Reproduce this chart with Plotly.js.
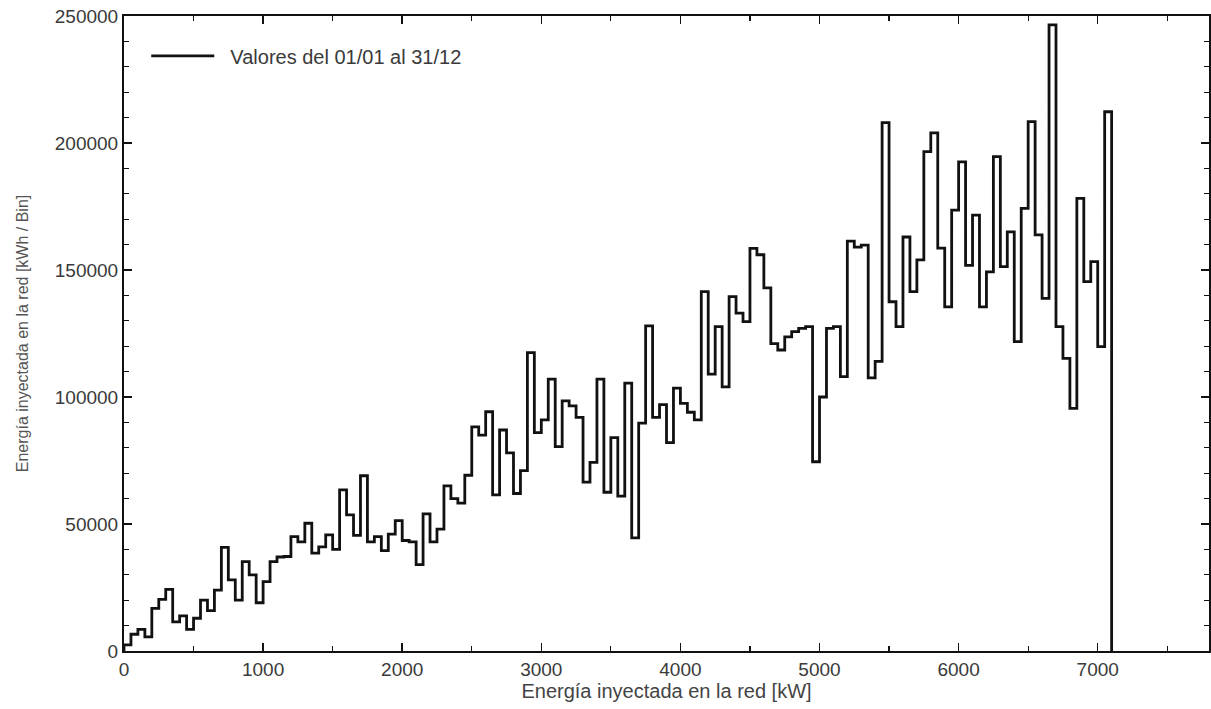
<!DOCTYPE html>
<html>
<head>
<meta charset="utf-8">
<script src="https://cdn.plot.ly/plotly-3.0.1.min.js"></script>
<style>
  html, body { margin: 0; padding: 0; background: #fff; }
  #chart { width: 1211px; height: 709px; }
</style>
</head>
<body>
<div id="chart"></div>
<script>
// Bin width of the histogram (kW)
const binWidth = 50;
// Energy injected per bin (kWh / Bin), bins starting at 0 kW
const binValues = [
  2400, 6600, 8500, 5600, 16800, 20300, 24300, 11500, 13800, 8500,
  12900, 20000, 15900, 24000, 40800, 28000, 20000, 35200, 30000, 19000,
  27300, 35200, 37000, 37200, 45000, 43000, 50300, 38500, 41000, 45700,
  40000, 63400, 53600, 45500, 69000, 43000, 45000, 39500, 46000, 51300,
  43500, 43000, 34000, 54000, 43000, 48000, 65000, 60000, 58200, 69200,
  88200, 85000, 94200, 61500, 87000, 78000, 62000, 71000, 117500, 86000,
  91000, 107000, 80500, 98500, 96500, 92000, 66500, 74300, 107000, 62500,
  84000, 61000, 105500, 44500, 89700, 128000, 92000, 97000, 82000, 103500,
  97500, 94000, 91000, 141500, 109000, 127700, 104000, 139500, 133000, 129700,
  158500, 156000, 143000, 121000, 118500, 123700, 125700, 127000, 127700, 74500,
  100000, 127000, 127700, 108000, 161400, 159000, 159800, 107500, 114000, 208000,
  137500, 127700, 163000, 141500, 154000, 196600, 204000, 158600, 135500, 173600,
  192600, 151800, 171600, 135500, 149300, 194600, 151300, 165000, 121800, 174300,
  208400, 163800, 138800, 246500, 127700, 115200, 95500, 178200, 145400, 153300,
  119800, 212300
];
const seriesName = '\u00a0\u00a0Valores del 01/01 al 31/12';
const xTitle = 'Energía inyectada en la red [kW]';
const yTitle = 'Energía inyectada en la red [kWh / Bin]';

// Build the step outline from the bin edges
const xs = [0];
const ys = [0];
for (let i = 0; i < binValues.length; i++) {
  xs.push(i * binWidth);
  ys.push(binValues[i]);
}
xs.push(binValues.length * binWidth);
ys.push(0);

const trace = {
  type: 'scatter',
  mode: 'lines',
  x: xs,
  y: ys,
  name: seriesName,
  line: { shape: 'hv', color: '#111', width: 2.8 },
  showlegend: true
};

const FAM = 'Liberation Sans, Arial, sans-serif';
const axisFont = { family: FAM, size: 19, color: '#3a3a3a' };

const layout = {
  width: 1211,
  height: 709,
  margin: { l: 124, r: 2, t: 16, b: 58 },
  paper_bgcolor: '#fff',
  plot_bgcolor: '#fff',
  showlegend: true,
  legend: {
    x: 0.0205, y: 0.968, xanchor: 'left', yanchor: 'top',
    bgcolor: 'rgba(0,0,0,0)',
    font: { family: FAM, size: 20, color: '#3a3a3a' },
    itemwidth: 63
  },
  xaxis: {
    range: [0, 7800],
    dtick: 1000,
    tick0: 0,
    ticks: 'inside',
    ticklen: 8,
    tickwidth: 1.5,
    tickcolor: '#111',
    showline: true,
    linecolor: '#111',
    linewidth: 2,
    mirror: 'allticks',
    showgrid: false,
    zeroline: false,
    tickfont: axisFont,
    minor: { dtick: 500, ticks: 'inside', ticklen: 5, tickcolor: '#111', tickwidth: 1.2, showgrid: false },
    title: { text: xTitle, font: { family: FAM, size: 20, color: '#444' }, standoff: 2 }
  },
  yaxis: {
    range: [0, 250000],
    dtick: 50000,
    tick0: 0,
    tickformat: 'd',
    ticks: 'inside',
    ticklen: 8,
    tickwidth: 1.5,
    tickcolor: '#111',
    showline: true,
    linecolor: '#111',
    linewidth: 2,
    mirror: 'allticks',
    showgrid: false,
    zeroline: false,
    tickfont: axisFont,
    minor: { dtick: 10000, ticks: 'inside', ticklen: 5, tickcolor: '#111', tickwidth: 1.2, showgrid: false },
    title: { text: yTitle, font: { family: FAM, size: 16, color: '#555' }, standoff: 22 }
  }
};

Plotly.newPlot('chart', [trace], layout, { displayModeBar: false, staticPlot: true });
</script>
</body>
</html>
